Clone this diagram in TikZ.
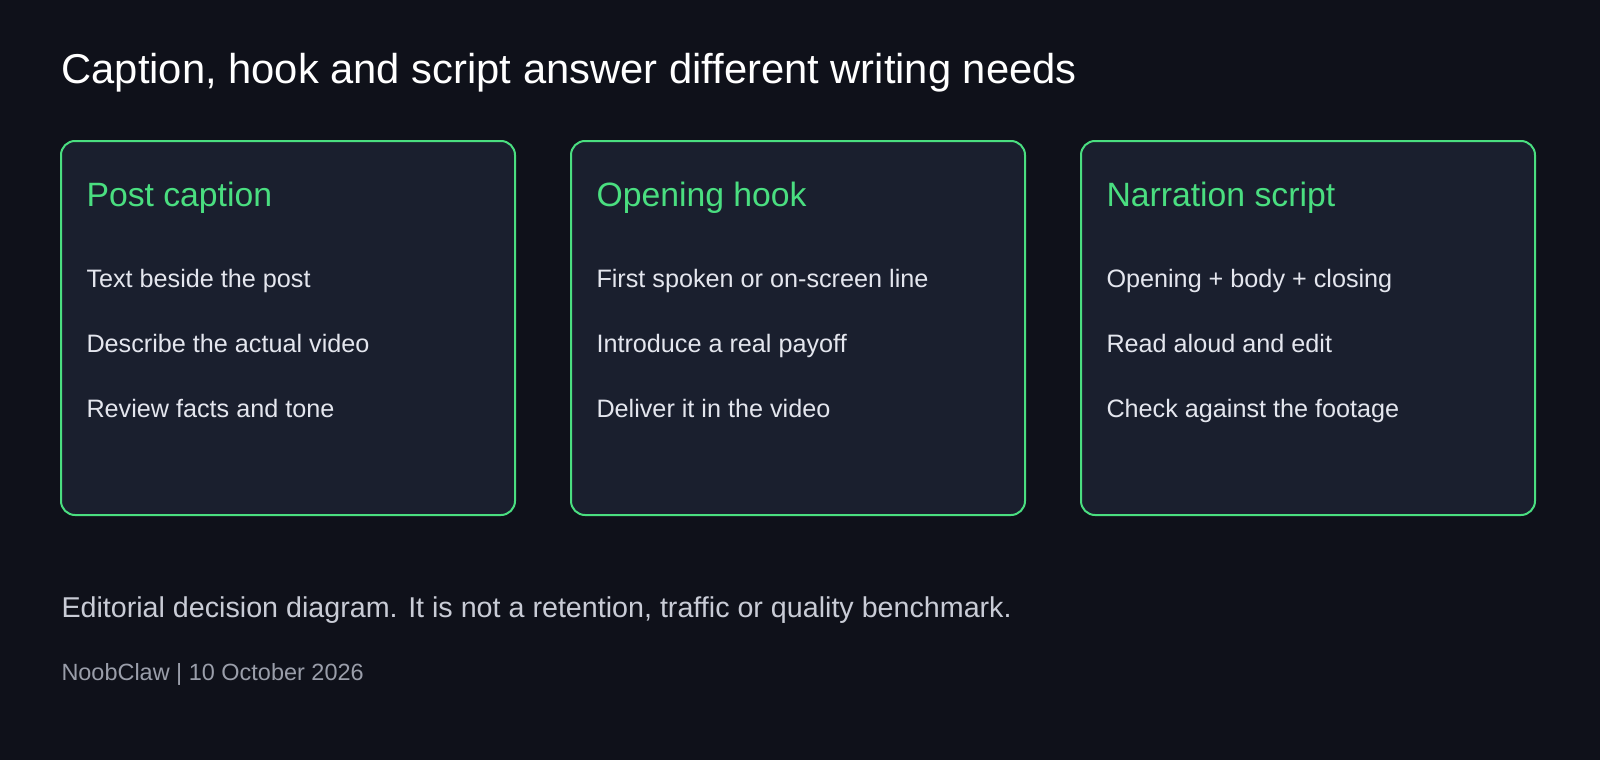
\documentclass[tikz,border=0pt]{standalone}
\usepackage{fontspec}
\setmainfont{Liberation Sans}

\definecolor{bgdark}{HTML}{0F111A}
\definecolor{cardfill}{HTML}{1A1F2E}
\definecolor{cardgreen}{HTML}{4ADE80}
\definecolor{itemtext}{HTML}{E4E6EE}
\definecolor{notetext}{HTML}{C9CCD6}
\definecolor{credittext}{HTML}{9A9EAA}

\tikzset{every picture/.style={line width=0.75pt}}
\tikzset{
  card/.style={draw=cardgreen, fill=cardfill, line width=1.5pt, rounded corners=10.5pt},
  cardhead/.style={anchor=base west, inner sep=0pt, text=cardgreen, font=\fontsize{25.3}{30}\selectfont},
  carditem/.style={anchor=base west, inner sep=0pt, text=itemtext, font=\fontsize{18.9}{23}\selectfont},
}

\begin{document}
\begin{tikzpicture}[x=0.75pt,y=0.75pt,yscale=-1,xscale=1]
%Background
\path [fill=bgdark] (0,0) rectangle (1600,760) ;

%Shape: Rounded Rect [card 1]
\draw [card] (61,141) rectangle (515,515) ;
%Shape: Rounded Rect [card 2]
\draw [card] (571,141) rectangle (1025,515) ;
%Shape: Rounded Rect [card 3]
\draw [card] (1081,141) rectangle (1535,515) ;

% Text Node
\draw (61,83) node (title) [anchor=base west][inner sep=0pt][text=white][font=\fontsize{31.3}{37}\selectfont] {Caption, hook and script answer different writing needs};

% Text Node
\draw (86,206) node (captionhead) [cardhead] {Post caption};
% Text Node
\draw (86,287) node (captionone) [carditem] {Text beside the post};
% Text Node
\draw (86,352) node (captiontwo) [carditem] {Describe the actual video};
% Text Node
\draw (86,417) node (captionthree) [carditem] {Review facts and tone};

% Text Node
\draw (596,206) node (hookhead) [cardhead] {Opening hook};
% Text Node
\draw (596,287) node (hookone) [carditem] {First spoken or on-screen line};
% Text Node
\draw (596,352) node (hooktwo) [carditem] {Introduce a real payoff};
% Text Node
\draw (596,417) node (hookthree) [carditem] {Deliver it in the video};

% Text Node
\draw (1106,206) node (scripthead) [cardhead] {Narration script};
% Text Node
\draw (1106,287) node (scriptone) [carditem] {Opening + body + closing};
% Text Node
\draw (1106,352) node (scripttwo) [carditem] {Read aloud and edit};
% Text Node
\draw (1106,417) node (scriptthree) [carditem] {Check against the footage};

% Text Node
\draw (61,617) node (note) [anchor=base west][inner sep=0pt][text=notetext][font=\fontsize{21.5}{26}\selectfont] {Editorial decision diagram. It is not a retention, traffic or quality benchmark.};
% Text Node
\draw (61,680) node (credit) [anchor=base west][inner sep=0pt][text=credittext][font=\fontsize{17.6}{21}\selectfont] {NoobClaw | 10 October 2026};
\end{tikzpicture}
\end{document}
